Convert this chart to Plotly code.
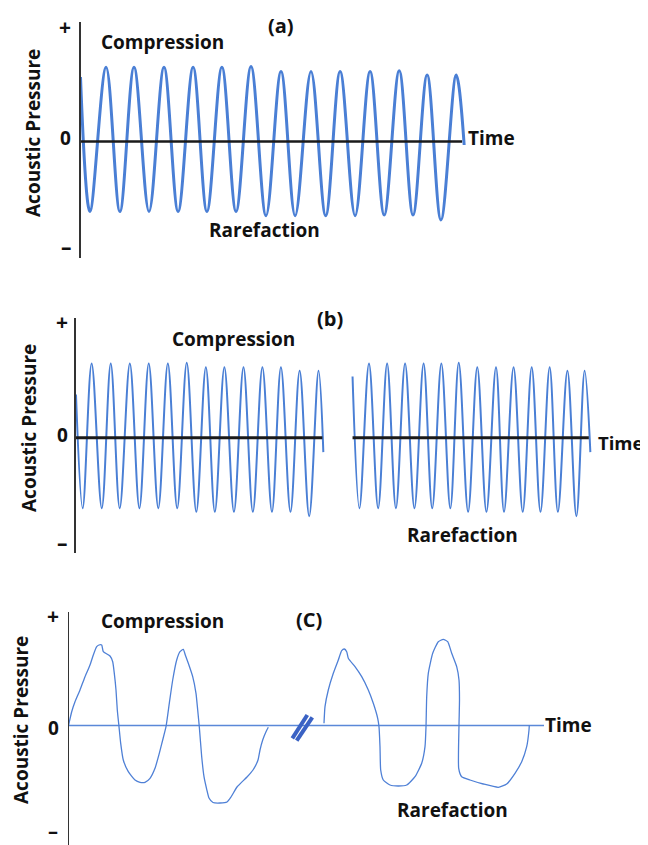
import plotly.graph_objects as go

# page pixel size; the html body keeps an 8 px default margin, so the figure
# itself is drawn 8 px smaller and every pixel position is offset by that margin
W, H = 648, 845
OFF = 8
FW, FH = W - OFF, H - OFF

# ---------------- Panel (a): steady tone ----------------
# time in periods, pressure normalised
a_start = [0.0, 0.92]
a_end = [13.05, -0.05]
a_peak_t = [0.87, 1.82, 2.84, 3.83, 4.81, 5.80, 6.82, 7.84, 8.83, 9.85, 10.84, 11.79, 12.78]
a_peak_p = [1.06, 1.06, 1.06, 1.06, 1.06, 1.07, 1.00, 1.00, 1.00, 1.00, 1.01, 0.95, 0.95]
a_trough_t = [0.32, 1.34, 2.33, 3.32, 4.30, 5.29, 6.31, 7.30, 8.34, 9.34, 10.33, 11.31, 12.26]
a_trough_p = [-1.00, -1.00, -1.00, -1.00, -1.00, -1.00, -1.06, -1.06, -1.06, -1.06, -1.05, -1.05, -1.12]
a_zero_span = [0.0, 12.98]

# ---------------- Panel (b): interrupted tone ----------------
b_left_start = [0.02, 0.60]
b_left_end = [12.97, -0.20]
b_left_peak_t = [0.84, 1.84, 2.84, 3.83, 4.83, 5.82, 6.82, 7.79, 8.79, 9.78, 10.75, 11.73, 12.72]
b_left_trough_t = [0.37, 1.37, 2.31, 3.34, 4.33, 5.32, 6.32, 7.29, 8.29, 9.28, 10.28, 11.25, 12.23]
b_right_start = [14.50, 0.85]
b_right_end = [26.95, -0.20]
b_right_peak_t = [15.36, 16.31, 17.25, 18.22, 19.15, 20.06, 21.03, 22.01, 22.93, 23.88, 24.82, 25.75, 26.65]
b_right_trough_t = [14.86, 15.84, 16.77, 17.74, 18.67, 19.62, 20.55, 21.51, 22.43, 23.41, 24.34, 25.25, 26.22]
b_peak_p = [1.03, 1.03, 1.03, 1.03, 1.03, 1.04, 0.98, 0.98, 0.98, 0.98, 0.98, 0.93, 0.93]
b_trough_p = [-0.98, -0.98, -0.98, -0.98, -0.98, -0.98, -1.03, -1.03, -1.03, -1.03, -1.03, -1.03, -1.09]
b_zero_left = [0.0, 12.92]
b_zero_right = [14.50, 26.87]

# ---------------- Panel (c): irregular waveform ----------------
c1_t = [0.0, 0.32, 0.65, 1.15, 1.65, 2.15, 2.48, 2.82, 3.05, 3.32, 3.48, 4.15, 4.42, 4.58,
        4.75, 4.88, 5.05, 5.22, 5.48, 5.98, 6.65, 7.15, 7.65, 8.15, 8.65, 9.08, 9.42, 9.75,
        10.08, 10.42, 10.82, 11.15, 11.48, 11.68, 11.98, 12.42, 12.75, 12.92, 13.08, 13.32,
        13.55, 13.82, 14.05, 14.45, 15.15, 15.85, 16.25, 16.85, 17.85, 18.45, 18.95, 19.15,
        19.42, 19.75, 19.98]
c1_p = [0.0, 1.38, 2.38, 3.55, 4.88, 6.05, 7.05, 7.88, 8.05, 8.05, 7.38, 6.95, 6.38, 5.22,
        3.55, 1.55, -0.12, -1.78, -3.45, -4.62, -5.45, -5.68, -5.68, -5.28, -4.28, -2.78, -1.45, -0.12,
        2.22, 4.55, 6.55, 7.38, 7.62, 7.05, 6.22, 4.88, 3.22, 1.55, -0.12, -3.12,
        -5.12, -6.38, -7.25, -7.70, -7.75, -7.65, -7.15, -6.15, -5.15, -4.45, -3.45, -2.45,
        -1.45, -0.62, -0.18]
c2_t = [25.55, 25.65, 25.98, 26.48, 26.98, 27.32, 27.58, 27.82, 27.98, 28.65, 29.32, 29.98,
        30.48, 30.92, 31.05, 31.15, 31.22, 31.48, 32.15, 32.98, 33.82, 34.65, 35.32, 35.65,
        35.75, 35.82, 35.98, 36.42, 36.98, 37.48, 37.92, 38.32, 38.82, 39.05, 39.10, 39.05,
        39.02, 39.32, 40.15, 41.48, 42.98, 43.82, 44.65, 45.32, 45.82, 46.05, 46.08]
c2_p = [0.22, 1.88, 3.55, 5.22, 6.55, 7.48, 7.65, 7.38, 6.72, 5.88, 4.88, 3.55,
        2.22, 0.72, -0.12, -2.12, -4.45, -5.45, -5.95, -6.05, -5.95, -5.12, -3.78, -2.12,
        -0.12, 2.88, 5.22, 7.22, 8.38, 8.62, 8.38, 7.22, 5.88, 4.55, 2.55, 0.05,
        -4.28, -5.12, -5.45, -5.85, -6.18, -5.85, -4.78, -3.62, -2.12, -0.45, 0.05]
c_zero_span = [0.0, 47.55]
break_t = [22.38, 23.88, None, 22.82, 24.38]
break_p = [-1.28, 1.05, None, -1.52, 0.82]

labels_compression = "Compression"
labels_rarefaction = "Rarefaction"
label_time = "Time"
label_y = "Acoustic Pressure"

BLUE = "#4a7fd5"
BLUE_C = "#4f80d6"


def merge(start, peaks_t, peaks_p, troughs_t, troughs_p, end):
    pts = sorted(zip(peaks_t + troughs_t, peaks_p + troughs_p))
    ts = [start[0]] + [p[0] for p in pts] + [end[0]]
    ps = [start[1]] + [p[1] for p in pts] + [end[1]]
    return ts, ps


fig = go.Figure()

# panel a
ta, pa = merge(a_start, a_peak_t, a_peak_p, a_trough_t, a_trough_p, a_end)
fig.add_trace(go.Scatter(x=ta, y=pa, mode="lines", xaxis="x", yaxis="y",
                         line=dict(color=BLUE, width=3, shape="spline", smoothing=1.0)))
fig.add_trace(go.Scatter(x=a_zero_span, y=[0, 0], mode="lines", xaxis="x", yaxis="y",
                         line=dict(color="#1a1a1a", width=2.6)))

# panel b
tl, pl = merge(b_left_start, b_left_peak_t, b_peak_p, b_left_trough_t, b_trough_p, b_left_end)
tr, pr = merge(b_right_start, b_right_peak_t, b_peak_p, b_right_trough_t, b_trough_p, b_right_end)
for tt, pp in ((tl, pl), (tr, pr)):
    fig.add_trace(go.Scatter(x=tt, y=pp, mode="lines", xaxis="x2", yaxis="y2",
                             line=dict(color=BLUE, width=2, shape="spline", smoothing=1.0)))
for span in (b_zero_left, b_zero_right):
    fig.add_trace(go.Scatter(x=span, y=[0, 0], mode="lines", xaxis="x2", yaxis="y2",
                             line=dict(color="#1a1a1a", width=3)))

# panel c
fig.add_trace(go.Scatter(x=c_zero_span, y=[0, 0], mode="lines", xaxis="x3", yaxis="y3",
                         line=dict(color="#5a88d8", width=1.6)))
for tt, pp in ((c1_t, c1_p), (c2_t, c2_p)):
    fig.add_trace(go.Scatter(x=tt, y=pp, mode="lines", xaxis="x3", yaxis="y3",
                             line=dict(color=BLUE_C, width=1.3, shape="spline", smoothing=0.5)))
fig.add_trace(go.Scatter(x=break_t, y=break_p, mode="lines", xaxis="x3", yaxis="y3",
                         line=dict(color="#3a62c4", width=4)))


def px_x(px):
    return (px - OFF) / FW


def px_y(py):
    return 1 - (py - OFF) / FH


def x_axis(axis_px, px_per_unit, anchor):
    return dict(domain=[px_x(axis_px), 1], range=[0, (W - axis_px) / px_per_unit],
                visible=False, fixedrange=True, anchor=anchor)


def y_axis(top_px, bot_px, zero_px, px_per_unit, anchor, lw):
    return dict(domain=[max(0, px_y(bot_px)), px_y(top_px)],
                range=[(zero_px - bot_px) / px_per_unit, (zero_px - top_px) / px_per_unit],
                showline=True, linecolor="#333333", linewidth=lw, showgrid=False,
                zeroline=False, showticklabels=False, ticks="", anchor=anchor, fixedrange=True)


FONT = "Open Sans, Arial, sans-serif"
annotations = []


def ann(text, xpx, ypx, size=19, angle=0, yanchor="middle"):
    annotations.append(dict(text="<b>%s</b>" % text, x=px_x(xpx), y=px_y(ypx),
                            xref="paper", yref="paper", xanchor="center", yanchor=yanchor,
                            showarrow=False, textangle=angle, borderpad=0,
                            font=dict(family=FONT, size=size, color="#111111")))


# panel a labels
ann("(a)", 281, 26, 20)
ann(labels_compression, 162, 42)
ann(labels_rarefaction, 264, 230)
ann(label_time, 491, 138)
ann("+", 65, 27, 21)
ann("0", 65, 138)
ann("–", 66, 247, 21)
ann(label_y, 33, 133, 19, -90)
# panel b labels
ann("(b)", 330, 318, 20)
ann(labels_compression, 233, 339)
ann(labels_rarefaction, 462, 535)
ann(label_time, 621, 442, 18.5)
ann("+", 62, 322, 21)
ann("0", 62, 435)
ann("–", 62, 543, 21)
ann(label_y, 29, 428, 19, -90)
# panel c labels
ann("(C)", 309, 619, 20)
ann(labels_compression, 162, 621)
ann(labels_rarefaction, 452, 810)
ann(label_time, 568, 725)
ann("+", 53, 616, 21)
ann("0", 53, 728)
ann("–", 53, 845, 20, 0, "bottom")
ann(label_y, 21, 720, 19, -90)

fig.update_layout(
    width=FW, height=FH, margin=dict(l=0, r=0, t=0, b=0),
    paper_bgcolor="white", plot_bgcolor="white", showlegend=False,
    xaxis=x_axis(80.5, 29.4, "y"), yaxis=y_axis(22, 258, 141.5, 70, "x", 1.6),
    xaxis2=x_axis(75.6, 19.1, "y2"), yaxis2=y_axis(318, 553, 437.7, 72, "x2", 1.6),
    xaxis3=x_axis(68.5, 10, "y3"), yaxis3=y_axis(612, 845, 725.5, 10, "x3", 1.4),
    annotations=annotations,
)

fig.write_html("out.html")
